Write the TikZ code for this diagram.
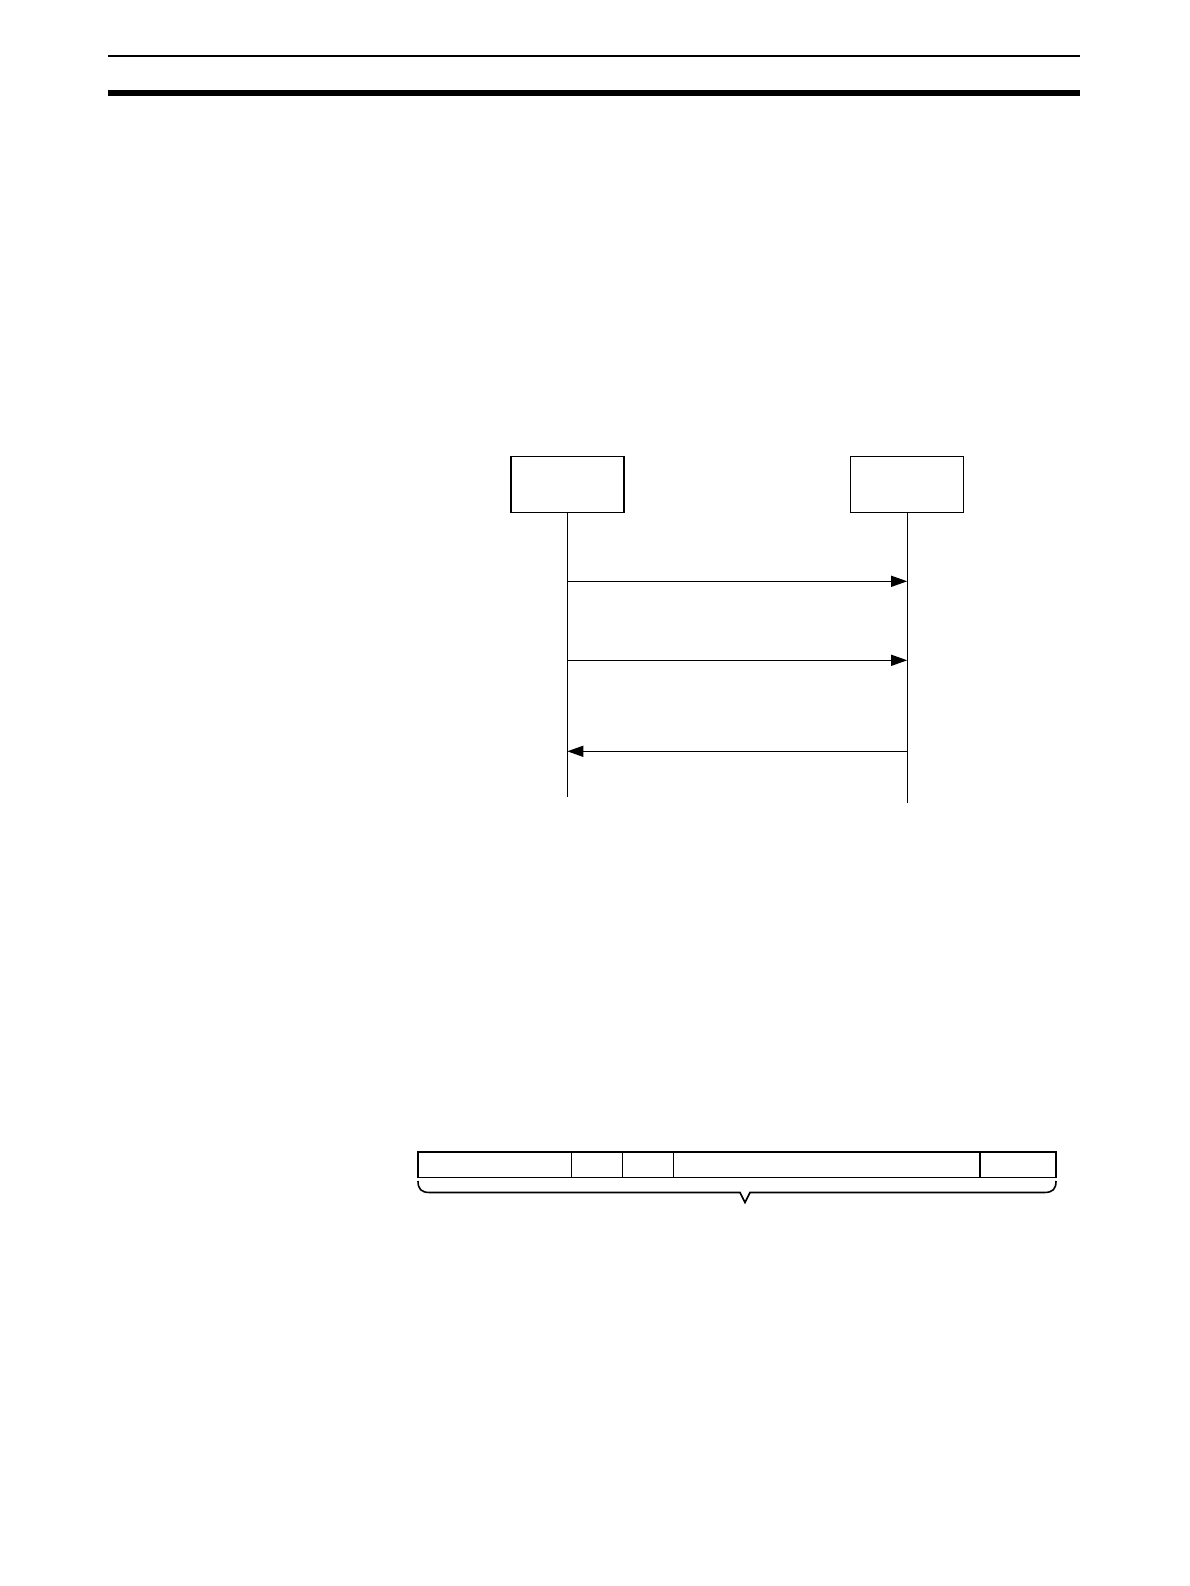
\documentclass[tikz,border=0pt]{standalone}
\usetikzlibrary{arrows.meta}
\begin{document}
\begin{tikzpicture}[x=1pt,y=-1pt,
  thin line/.style={line width=1.3pt},
  lifebox/.style={draw,line width=1.5pt,minimum width=113pt,minimum height=56pt,inner sep=0pt},
  msg/.style={line width=1.3pt,-{Triangle[length=16pt,width=11pt]}},
  framebox/.style={draw,line width=1.6pt,minimum width=638pt,minimum height=25.6pt,inner sep=0pt}]
\useasboundingbox (0,0) rectangle (1190,1586);
% header rules
\coordinate (h1l) at (108,56);
\coordinate (h1r) at (1080,56);
\coordinate (h2l) at (108,93);
\coordinate (h2r) at (1080,93);
\draw[line width=2.2pt] (h1l) -- (h1r);
\draw[line width=6pt] (h2l) -- (h2r);
% lifeline boxes
\node[lifebox] (A) at (567.3,484.7) {};
\node[lifebox] (B) at (907.2,484.7) {};
\coordinate (Aend) at (567.3,797);
\coordinate (Bend) at (907.2,803);
\draw[thin line] (A.south) -- (Aend);
\draw[thin line] (B.south) -- (Bend);
% messages
\coordinate (a1) at (567.3,581.3);
\coordinate (b1) at (907.2,581.3);
\coordinate (a2) at (567.3,660.3);
\coordinate (b2) at (907.2,660.3);
\coordinate (a3) at (567.3,751.3);
\coordinate (b3) at (907.2,751.3);
\draw[msg] (a1) -- (b1);
\draw[msg] (a2) -- (b2);
\draw[msg] (b3) -- (a3);
% frame
\node[framebox] (F) at (736.9,1164.5) {};
\foreach \xx/\w in {571.3/1.3,622.3/1.3,673.3/1.3,980/1.8}{
  \draw[line width=\w pt] (\xx,1151.7) -- (\xx,1177.3);
}
% brace
\draw[line width=1.6pt,line join=miter]
  (418,1181) .. controls (418,1189) and (421,1192.5) .. (430,1192.5)
  -- (740,1192.5) -- (745,1202.5) -- (750,1192.5)
  -- (1044,1192.5) .. controls (1053,1192.5) and (1056,1189) .. (1056,1181);
\end{tikzpicture}
\end{document}
